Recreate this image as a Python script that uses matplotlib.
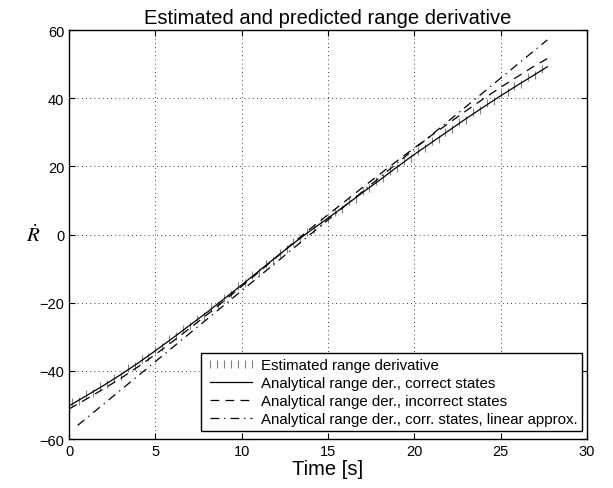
import matplotlib
matplotlib.use('Agg')
import matplotlib.pyplot as plt
from matplotlib.lines import Line2D

plt.rcParams['font.family'] = ['Liberation Sans', 'DejaVu Sans']
plt.rcParams['mathtext.fontset'] = 'stix'

# analytical curves, sampled every second
t_an = [0, 1, 2, 3, 4, 5, 6, 7, 8, 9, 10, 11, 12, 13, 14, 15, 16, 17, 18, 19,
        20, 21, 22, 23, 24, 25, 26, 27, 27.7]
rd_correct = [-50.3, -47.3, -44.3, -41.1, -37.7, -34.1, -30.4, -26.6, -22.8, -18.8,
              -14.8, -10.7, -6.6, -2.6, 1.2, 4.8, 8.5, 12.3, 16.0, 19.8,
              23.5, 27.0, 30.5, 34.0, 37.4, 40.7, 43.9, 47.0, 49.2]
rd_incorrect = [-51.2, -48.3, -45.3, -42.2, -38.8, -35.2, -31.4, -27.5, -23.5, -19.4,
                -15.2, -11.0, -6.7, -2.4, 1.8, 5.8, 9.8, 13.8, 17.7, 21.6,
                25.4, 29.1, 32.7, 36.3, 39.8, 43.2, 46.4, 49.6, 51.6]

# linear approximation (straight line)
t_lin = [0.5, 27.7]
rd_linear = [-56.0, 57.1]

# estimated range derivative
t_est = [0.2, 0.6, 1.0, 1.4, 1.8, 2.2, 2.6, 3.0, 3.4, 3.8, 4.2, 4.6, 5.0, 5.4, 5.8,
         6.2, 6.6, 7.0, 7.4, 7.8, 8.2, 8.6, 9.0, 9.4, 9.8, 10.2, 10.6, 11.0, 11.4,
         11.8, 12.2, 12.6, 13.0, 13.4, 13.8, 14.2, 14.6, 15.0, 15.4, 15.8, 16.2,
         16.6, 17.0, 17.4, 17.8, 18.2, 18.6, 19.0, 19.4, 19.8, 20.2, 20.6, 21.0,
         21.4, 21.8, 22.2, 22.6, 23.0, 23.4, 23.8, 24.2, 24.6, 25.0, 25.4, 25.8,
         26.2, 26.6, 27.0, 27.4]
rd_est = [-49.2, -48.9, -46.8, -46.5, -44.4, -43.9, -42.0, -41.5, -39.2, -38.6,
          -36.6, -35.9, -33.8, -32.9, -30.7, -29.9, -27.8, -26.9, -24.7, -23.9,
          -21.6, -20.8, -18.5, -17.5, -15.2, -14.3, -12.0, -11.0, -8.8, -7.7,
          -5.5, -4.4, -2.3, -1.4, 0.8, 1.6, 3.8, 4.5, 6.7, 7.5, 9.7, 10.5, 12.7,
          13.5, 15.7, 16.5, 18.7, 19.5, 21.7, 22.5, 24.6, 25.3, 27.4, 28.1, 30.2,
          30.9, 33.0, 33.7, 35.8, 36.4, 38.5, 39.1, 41.1, 41.7, 43.7, 44.2, 46.2,
          46.7, 48.7]

labels = ['Estimated range derivative',
          'Analytical range der., correct states',
          'Analytical range der., incorrect states',
          'Analytical range der., corr. states, linear approx.']

fig = plt.figure(figsize=(6.13, 4.89), dpi=100)
ax = fig.add_axes([0.1126, 0.1002, 0.845, 0.8364])

ax.plot(t_est, rd_est, ls='none', marker='|', ms=6, mew=0.8, color='0.5')
ax.plot(t_an, rd_correct, color='k', lw=0.9)
ax.plot(t_an, rd_incorrect, color='k', lw=0.9, ls=(0, (7, 5)))
ax.plot(t_lin, rd_linear, color='k', lw=0.9, ls=(0, (7, 4, 1, 4)))

ax.set_xlim(0, 30)
ax.set_ylim(-60, 60)
ax.set_xticks([0, 5, 10, 15, 20, 25, 30])
ax.set_yticks([-60, -40, -20, 0, 20, 40, 60])
ax.tick_params(direction='in', top=True, right=True, labelsize=10.5, length=4)
ax.grid(True, color='k', ls=(0, (1, 4)), lw=0.6)
for s in ax.spines.values():
    s.set_linewidth(1.0)

ax.set_title('Estimated and predicted range derivative', fontsize=14.5, pad=5)
ax.set_xlabel('Time [s]', fontsize=14.5, labelpad=1)
ax.set_ylabel(r'$\dot{R}$', fontsize=15, rotation=0, labelpad=4, va='center')

handles = [Line2D([], [], ls='none', marker='|', ms=6, mew=0.8, color='0.5'),
           Line2D([], [], color='k', lw=0.9),
           Line2D([], [], color='k', lw=0.9, ls=(0, (7, 5))),
           Line2D([], [], color='k', lw=0.9, ls=(0, (7, 4, 1, 4)))]
leg = ax.legend(handles, labels, loc='lower right', bbox_to_anchor=(0.990, 0.0196),
                borderaxespad=0, fontsize=10.8, numpoints=7, handlelength=3.4,
                handletextpad=0.3, labelspacing=0.28, borderpad=0.3,
                fancybox=False, framealpha=1, edgecolor='k')
leg.get_frame().set_linewidth(1.0)

fig.savefig('out.png', dpi=100)
